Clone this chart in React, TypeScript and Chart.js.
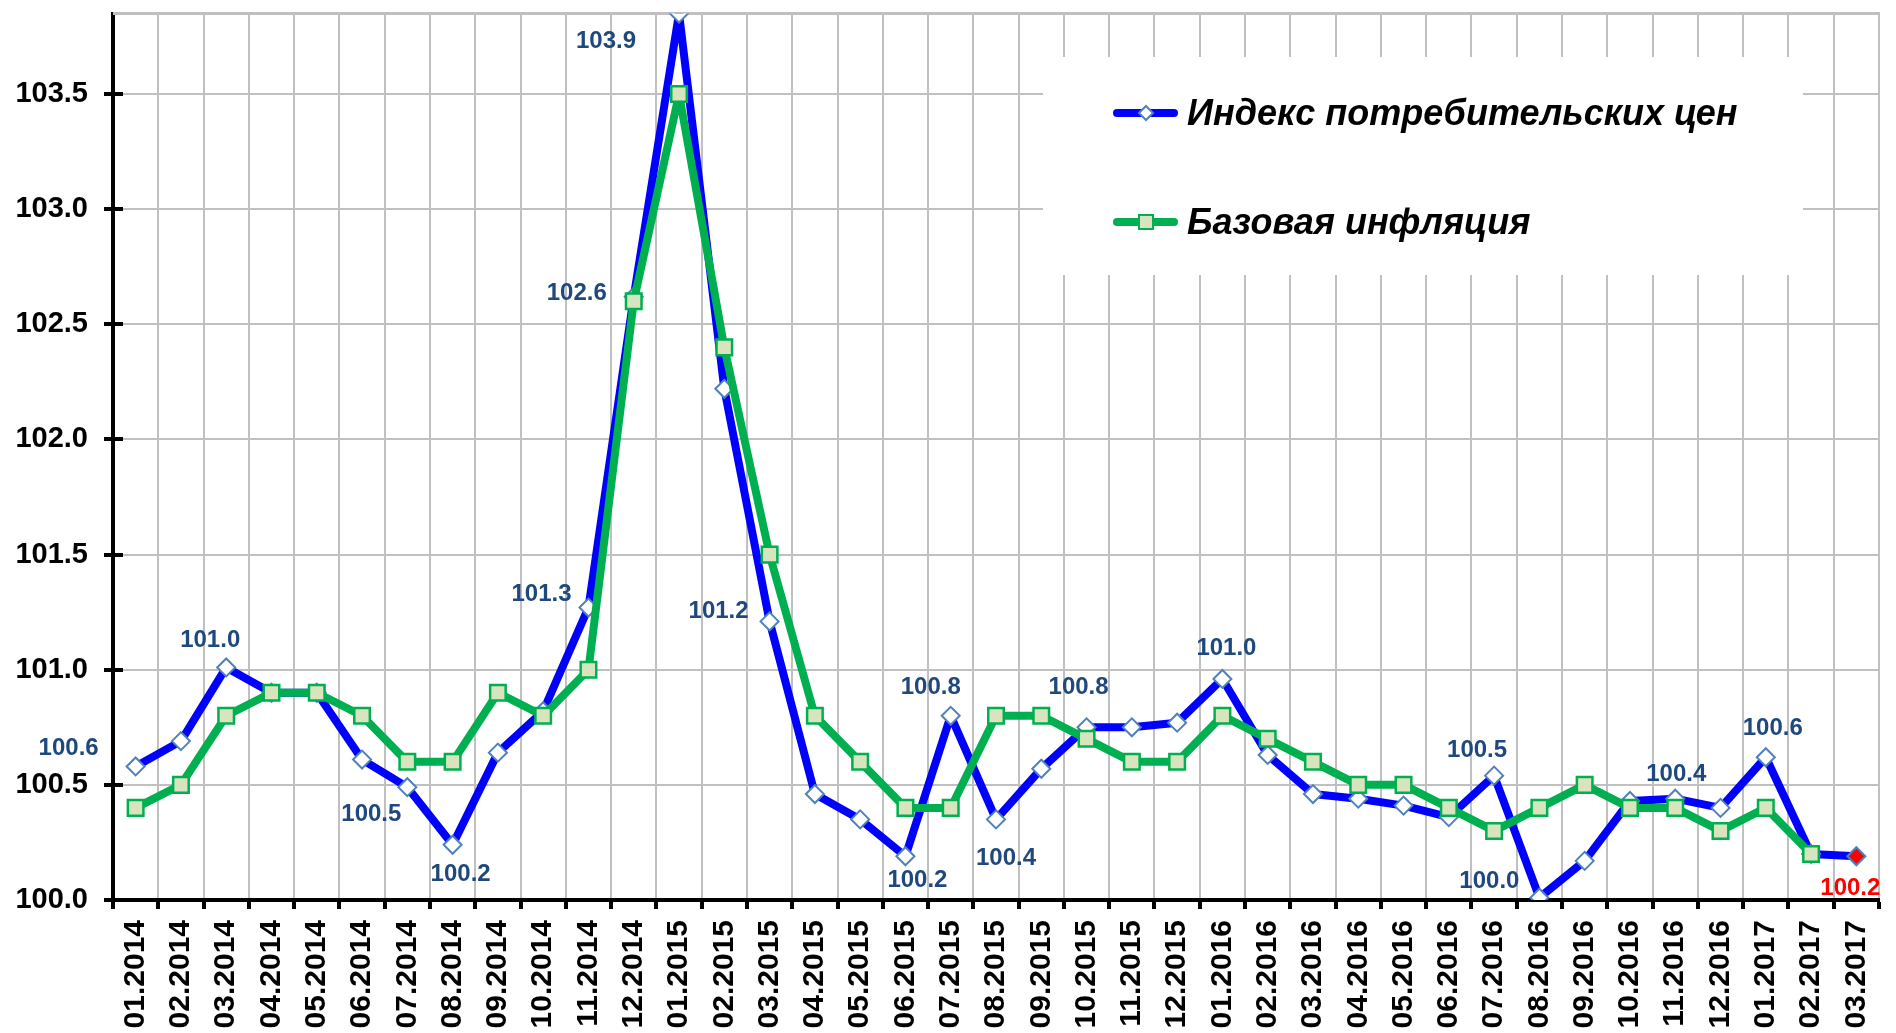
import React, { useEffect, useRef } from 'react';
import { Chart, registerables } from 'chart.js';

Chart.register(...registerables);

const FONT = 'Arial, "Liberation Sans", sans-serif';

const categories = [
  '01.2014', '02.2014', '03.2014', '04.2014', '05.2014', '06.2014', '07.2014', '08.2014', '09.2014', '10.2014', '11.2014', '12.2014',
  '01.2015', '02.2015', '03.2015', '04.2015', '05.2015', '06.2015', '07.2015', '08.2015', '09.2015', '10.2015', '11.2015', '12.2015',
  '01.2016', '02.2016', '03.2016', '04.2016', '05.2016', '06.2016', '07.2016', '08.2016', '09.2016', '10.2016', '11.2016', '12.2016',
  '01.2017', '02.2017', '03.2017',
];

const cpiValues = [
  100.58, 100.69, 101.01, 100.9, 100.9, 100.61, 100.49, 100.24, 100.64, 100.82, 101.27, 102.62,
  103.85, 102.22, 101.21, 100.46, 100.35, 100.19, 100.8, 100.35, 100.57, 100.75, 100.75, 100.77,
  100.96, 100.63, 100.46, 100.44, 100.41, 100.36, 100.54, 100.01, 100.17, 100.43, 100.44, 100.4,
  100.62, 100.2, 100.19,
];

const coreValues: (number | null)[] = [
  100.4, 100.5, 100.8, 100.9, 100.9, 100.8, 100.6, 100.6, 100.9, 100.8, 101.0, 102.6,
  103.5, 102.4, 101.5, 100.8, 100.6, 100.4, 100.4, 100.8, 100.8, 100.7, 100.6, 100.6,
  100.8, 100.7, 100.6, 100.5, 100.5, 100.4, 100.3, 100.4, 100.5, 100.4, 100.4, 100.3,
  100.4, 100.2, null,
];

const seriesNames = ['Индекс потребительских цен', 'Базовая инфляция'];

const yMin = 100.0;
const yMax = 103.85;
const yStep = 0.5;

// indices of CPI points that carry a value label
const labeledPoints = [0, 2, 6, 7, 10, 11, 12, 14, 17, 18, 19, 21, 24, 30, 31, 34, 36, 38];
const highlightIndex = 38;

// label placement (offset of label centre from the point, px)
const labelPlacement: Record<number, [number, number]> = {
  0: [-67, -18],
  2: [-16, -27],
  6: [-36, 27],
  7: [8, 30],
  10: [-47, -13],
  11: [-57, -3],
  12: [-73, 28],
  14: [-51, -10],
  17: [12, 24],
  18: [-20, -28],
  19: [10, 39],
  21: [-8, -40],
  24: [4, -31],
  30: [-17, -25],
  31: [-50, -16],
  34: [1, -24],
  36: [7, -29],
  38: [-6, 32],
};

const BLUE = '#0000FF';
const GREEN = '#00B050';
const DIAMOND_BORDER = '#4F81BD';
const SQUARE_FILL = '#D7E4BD';
const LABEL_COLOR = '#1F497D';
const GRID = '#C0C0C0';

const fmt1 = (v: number) => (Math.round(v * 10) / 10).toFixed(1);

function diamondPath(ctx: CanvasRenderingContext2D, x: number, y: number, r: number) {
  ctx.beginPath();
  ctx.moveTo(x - r, y);
  ctx.lineTo(x, y - r);
  ctx.lineTo(x + r, y);
  ctx.lineTo(x, y + r);
  ctx.closePath();
}

const framePlugin = {
  id: 'frame',
  beforeDatasetsDraw(chart: any) {
    const { ctx, chartArea } = chart;
    const y = chart.scales.y;
    ctx.save();
    // top border of plot area
    ctx.strokeStyle = GRID;
    ctx.lineWidth = 3;
    ctx.beginPath();
    ctx.moveTo(chartArea.left, chartArea.top);
    ctx.lineTo(chartArea.right + 1, chartArea.top);
    ctx.stroke();
    // inner part of y tick marks
    ctx.strokeStyle = '#000000';
    ctx.lineWidth = 4;
    y.ticks.forEach((t: any) => {
      const py = Math.round(y.getPixelForValue(t.value));
      ctx.beginPath();
      ctx.moveTo(chartArea.left, py);
      ctx.lineTo(chartArea.left + 10, py);
      ctx.stroke();
    });
    // legend box
    const bx = 1043, by = 57, bw = 760, bh = 218;
    ctx.fillStyle = '#FFFFFF';
    ctx.fillRect(bx, by, bw, bh);
    const rows = [
      { y: 113, color: BLUE, name: seriesNames[0], marker: 'diamond' },
      { y: 222, color: GREEN, name: seriesNames[1], marker: 'square' },
    ];
    rows.forEach((r) => {
      ctx.strokeStyle = r.color;
      ctx.lineWidth = 8;
      ctx.lineCap = 'round';
      ctx.beginPath();
      ctx.moveTo(1117, r.y);
      ctx.lineTo(1174, r.y);
      ctx.stroke();
      ctx.lineCap = 'butt';
      if (r.marker === 'diamond') {
        diamondPath(ctx, 1146, r.y, 7);
        ctx.fillStyle = '#FFFFFF';
        ctx.fill();
        ctx.strokeStyle = DIAMOND_BORDER;
        ctx.lineWidth = 2;
        ctx.stroke();
      } else {
        ctx.fillStyle = SQUARE_FILL;
        ctx.fillRect(1139, r.y - 7, 14, 14);
        ctx.strokeStyle = GREEN;
        ctx.lineWidth = 2;
        ctx.strokeRect(1139, r.y - 7, 14, 14);
      }
      ctx.fillStyle = '#000000';
      ctx.font = `italic bold 36px ${FONT}`;
      ctx.textAlign = 'left';
      ctx.textBaseline = 'middle';
      ctx.fillText(r.name, 1187, r.y + 2);
    });
    ctx.restore();
  },
  afterDatasetsDraw(chart: any) {
    const { ctx } = chart;
    const meta = chart.getDatasetMeta(0);
    ctx.save();
    ctx.font = `bold 24px ${FONT}`;
    ctx.textAlign = 'center';
    ctx.textBaseline = 'middle';
    labeledPoints.forEach((i) => {
      const el = meta.data[i];
      if (!el) return;
      const [dx, dy] = labelPlacement[i] || [0, -25];
      ctx.fillStyle = i === highlightIndex ? '#FF0000' : LABEL_COLOR;
      ctx.fillText(fmt1(cpiValues[i]), el.x + dx, el.y + dy);
    });
    ctx.restore();
  },
};

export default function App() {
  const canvasRef = useRef<HTMLCanvasElement | null>(null);

  useEffect(() => {
    document.body.style.margin = '0';
    const canvas = canvasRef.current;
    if (!canvas) return;
    const chart = new Chart(canvas, {
      type: 'line',
      data: {
        labels: categories,
        datasets: [
          {
            label: seriesNames[0],
            data: cpiValues,
            borderColor: BLUE,
            borderWidth: 8,
            borderJoinStyle: 'round',
            tension: 0,
            pointStyle: 'rectRot',
            pointRadius: 9,
            pointHoverRadius: 9,
            pointBorderColor: DIAMOND_BORDER,
            pointBorderWidth: 2,
            pointBackgroundColor: (c: any) => (c.dataIndex === highlightIndex ? '#FF0000' : '#FFFFFF'),
            order: 2,
          } as any,
          {
            label: seriesNames[1],
            data: coreValues,
            borderColor: GREEN,
            borderWidth: 8,
            borderJoinStyle: 'round',
            tension: 0,
            pointStyle: 'rect',
            pointRadius: 11,
            pointHoverRadius: 11,
            pointBorderColor: GREEN,
            pointBorderWidth: 2.5,
            pointBackgroundColor: SQUARE_FILL,
            order: 1,
          } as any,
        ],
      },
      options: {
        animation: false,
        responsive: true,
        maintainAspectRatio: false,
        devicePixelRatio: 1,
        layout: { padding: { top: 10, right: 17, left: 0, bottom: 0 } },
        plugins: {
          legend: { display: false },
          tooltip: { enabled: false },
        },
        scales: {
          x: {
            type: 'category',
            offset: true,
            grid: {
              offset: true,
              color: GRID,
              lineWidth: 2,
              tickColor: '#000000',
              tickWidth: 4,
              tickLength: 9,
            },
            border: { color: '#000000', width: 4 },
            ticks: {
              autoSkip: false,
              maxRotation: 90,
              minRotation: 90,
              padding: 11,
              color: '#000000',
              font: { family: FONT, size: 30, weight: 'bold' },
            },
            afterFit: (scale: any) => {
              scale.height = 133;
              scale.paddingLeft = 0;
              scale.paddingRight = 0;
            },
          },
          y: {
            type: 'linear',
            min: yMin,
            max: yMax,
            grid: {
              color: GRID,
              lineWidth: 2,
              tickColor: '#000000',
              tickWidth: 4,
              tickLength: 9,
            },
            border: { color: '#000000', width: 4 },
            ticks: {
              stepSize: yStep,
              includeBounds: false,
              padding: 16,
              color: '#000000',
              font: { family: FONT, size: 29, weight: 'bold' },
              callback: (v: any) => Number(v).toFixed(1),
            },
            afterFit: (scale: any) => {
              scale.width = 113;
              scale.paddingTop = 0;
              scale.paddingBottom = 0;
            },
          },
        },
      } as any,
      plugins: [framePlugin],
    });
    return () => chart.destroy();
  }, []);

  return (
    <div style={{ position: 'fixed', left: 0, top: 0, width: '1896px', height: '1033px', background: '#FFFFFF' }}>
      <canvas ref={canvasRef} />
    </div>
  );
}
